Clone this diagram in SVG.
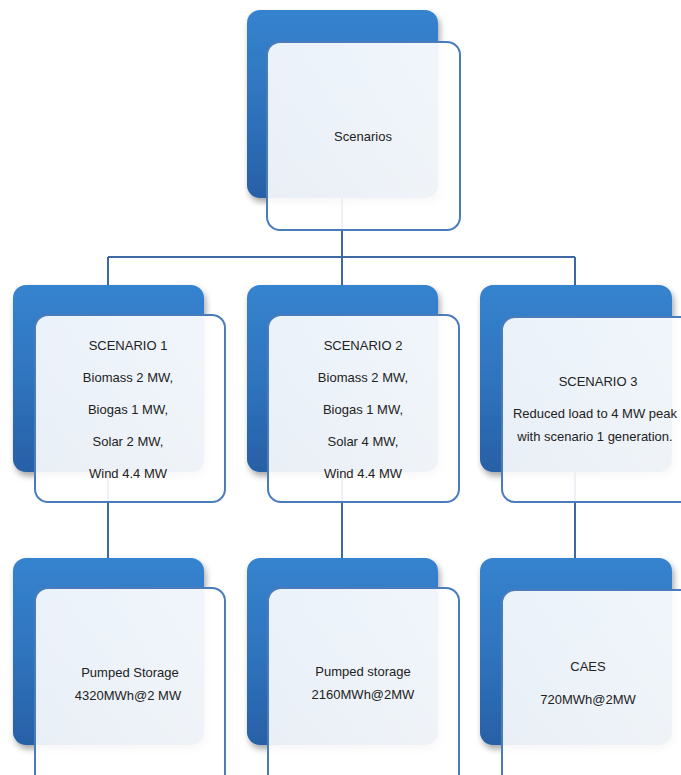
<svg xmlns="http://www.w3.org/2000/svg" width="681" height="775" viewBox="0 0 681 775">
<defs>
<linearGradient id="blueG" x1="0" y1="0" x2="0" y2="1">
<stop offset="0" stop-color="#3683cf"/>
<stop offset="0.5" stop-color="#2f74be"/>
<stop offset="1" stop-color="#2860a6"/>
</linearGradient>
<linearGradient id="frontG" x1="0" y1="0" x2="1" y2="0">
<stop offset="0" stop-color="#ffffff" stop-opacity="0.9"/>
<stop offset="1" stop-color="#ffffff" stop-opacity="0.93"/>
</linearGradient>
<filter id="sh" x="-10%" y="-10%" width="125%" height="125%">
<feDropShadow dx="2" dy="4" stdDeviation="3" flood-color="#000" flood-opacity="0.35"/>
</filter>
</defs>
<style>
.back{fill:url(#blueG);filter:url(#sh)}
.front{fill:url(#frontG);stroke:#4a7cbc;stroke-width:2}
.conn{stroke:#3d68a4;stroke-width:2;fill:none}
text{font-family:"Liberation Sans",Arial,sans-serif;font-size:13px;fill:#222;text-anchor:middle}
</style>
<g id="connectors">
<path class="conn" d="M342 198 V286 M108 257 H575 M108 257 V286 M575 257 V286"/>
<path class="conn" d="M108 470 V560 M342 470 V560 M575 470 V560"/>
</g>
<g id="scenarios">
<rect class="back" x="247" y="10" width="191" height="188" rx="13"/>
<rect class="front" x="267" y="42" width="193" height="188" rx="13"/>
<text x="363" y="141">Scenarios</text>
</g>
<g id="scenario1">
<rect class="back" x="13" y="285" width="191" height="187" rx="13"/>
<rect class="front" x="35" y="315" width="190" height="187" rx="13"/>
<text x="128" y="350">SCENARIO 1</text>
<text x="128" y="382">Biomass 2 MW,</text>
<text x="128" y="414">Biogas 1 MW,</text>
<text x="128" y="446">Solar 2 MW,</text>
<text x="128" y="478">Wind 4.4 MW</text>
</g>
<g id="scenario2">
<rect class="back" x="247" y="285" width="191" height="187" rx="13"/>
<rect class="front" x="268" y="315" width="191" height="187" rx="13"/>
<text x="363" y="350">SCENARIO 2</text>
<text x="363" y="382">Biomass 2 MW,</text>
<text x="363" y="414">Biogas 1 MW,</text>
<text x="363" y="446">Solar 4 MW,</text>
<text x="363" y="478">Wind 4.4 MW</text>
</g>
<g id="scenario3">
<rect class="back" x="480" y="285" width="192" height="187" rx="13"/>
<rect class="front" x="502" y="317" width="192" height="185" rx="13"/>
<text x="598" y="386">SCENARIO 3</text>
<text x="595" y="418">Reduced load to 4 MW peak</text>
<text x="595" y="441">with scenario 1 generation.</text>
</g>
<g id="storage1">
<rect class="back" x="13" y="558" width="191" height="187" rx="13"/>
<rect class="front" x="35" y="588" width="190" height="200" rx="13"/>
<text x="130" y="677">Pumped Storage</text>
<text x="128" y="700">4320MWh@2 MW</text>
</g>
<g id="storage2">
<rect class="back" x="247" y="558" width="191" height="187" rx="13"/>
<rect class="front" x="268" y="588" width="191" height="200" rx="13"/>
<text x="363" y="676">Pumped storage</text>
<text x="363" y="699">2160MWh@2MW</text>
</g>
<g id="storage3">
<rect class="back" x="480" y="558" width="192" height="187" rx="13"/>
<rect class="front" x="502" y="590" width="192" height="200" rx="13"/>
<text x="588" y="671">CAES</text>
<text x="588" y="704">720MWh@2MW</text>
</g>
</svg>
